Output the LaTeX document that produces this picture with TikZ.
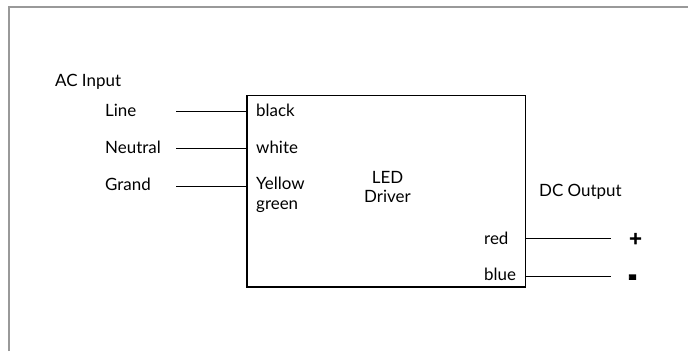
\documentclass[tikz,border=0pt]{standalone}
\usepackage{fontspec}
\setmainfont{Lato}
\newfontfamily\heavyfont[FakeBold=3]{Lato}
\usepackage{tikz}
\pgfdeclarelayer{bg}
\pgfsetlayers{bg,main}

\begin{document}
\begin{tikzpicture}[x=1bp, y=-1bp,
        lbl/.style={inner sep=0pt, anchor=base west, font=\fontsize{17}{19.4}\selectfont},
        wire/.style={line width=1bp},
        sign/.style={inner sep=0pt, font=\fontsize{22}{22}\heavyfont}]
        \useasboundingbox (0,0) rectangle (688,351);
        \draw [black!40, line width=2bp] (9,351) -- (9,7) -- (688,7);
        \node (drv) [draw, line width=1.3bp, inner sep=0pt, minimum width=278.5bp, minimum height=191.5bp] at (386.25,191.25) {};
        \node (ac) [lbl] at (55,86) {AC Input};
        \node (v0) [lbl] at (105,116.5) {Line};
        \node (v1) [lbl] at (105,153) {Neutral};
        \node (v2) [lbl] at (105,190) {Grand};
        \node (w0) [lbl] at (256,116.5) {black};
        \node (w1) [lbl] at (256,153) {white};
        \node (w2) [lbl, align=left] at (256,209.2) {Yellow\\green};
        \node (led) [lbl, anchor=base, align=center] at (387.5,202.7) {LED\\Driver};
        \node (dc) [lbl] at (539,196.7) {DC Output};
        \node (w3) [lbl] at (484,244) {red};
        \node (w4) [lbl] at (484,280) {blue};
        \node (p0) [sign] at (635.5,239.5) {+};
        \node (p1) [sign] at (632.5,284) {\scalebox{1.2}[2.4]{-}};
        \coordinate (a0) at (176,111.5);
        \coordinate (a1) at (176,148.5);
        \coordinate (a2) at (176,186);
        \coordinate (b0) at (610.5,238.5);
        \coordinate (b1) at (610.5,276);
        \begin{pgfonlayer}{bg}
                \draw [wire] (a0) -- (a0 -| drv.west);
                \draw [wire] (a1) -- (a1 -| drv.west);
                \draw [wire] (a2) -- (a2 -| drv.west);
                \draw [wire] (b0 -| drv.east) -- (b0);
                \draw [wire] (b1 -| drv.east) -- (b1);
        \end{pgfonlayer}
\end{tikzpicture}
\end{document}
